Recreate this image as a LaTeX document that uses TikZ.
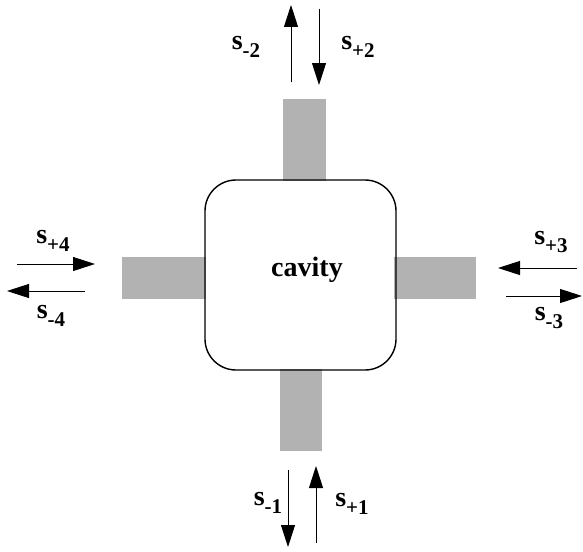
\documentclass[tikz,border=0pt]{standalone}
\usepackage{fontspec}
\setmainfont{Liberation Serif}
\usetikzlibrary{arrows.meta}
\tikzset{
  guide/.style={fill=black!30,draw=none,inner sep=0pt},
  wave/.style={line width=0.9pt,-{Triangle[length=22pt,width=14pt]}},
  portlabel/.style={font=\bfseries\fontsize{28}{28}\selectfont,inner sep=0pt}
}
\newcommand{\port}[1]{s\raisebox{-0.3em}{\fontsize{21}{21}\selectfont #1}}
\begin{document}
\begin{tikzpicture}[x=1pt,y=-1pt]
      \useasboundingbox (0,0) rectangle (583,551);
      \begin{scope}
        % waveguides
        \node[guide,minimum width=43,minimum height=82] (gtop) at (304.5,140) {};
        \node[guide,minimum width=42,minimum height=82] (gbot) at (301,410) {};
        \node[guide,minimum width=84,minimum height=42] (gleft) at (164,278) {};
        \node[guide,minimum width=82,minimum height=42] (gright) at (435,278) {};
        \node[draw,line width=1.4pt,rounded corners=31pt,minimum width=191,minimum height=190,fill=none] (cavity) at (300.5,275) {};
        \node[font=\bfseries\fontsize{28}{28}\selectfont] at (307,270) {cavity};
        % ports
        \coordinate (t1) at (291,82);  \coordinate (t2) at (291,5);
        \coordinate (t3) at (319,9);   \coordinate (t4) at (319,85);
        \coordinate (l1) at (17,264);  \coordinate (l2) at (95,264);
        \coordinate (l3) at (85,291);  \coordinate (l4) at (7,291);
        \coordinate (r1) at (577,268); \coordinate (r2) at (498,268);
        \coordinate (r3) at (506,296); \coordinate (r4) at (582,296);
        \coordinate (b1) at (288,470); \coordinate (b2) at (288,547);
        \coordinate (b3) at (316,543); \coordinate (b4) at (316,466);
        \draw[wave] (t1) -- (t2);
        \draw[wave] (t3) -- (t4);
        \draw[wave] (l1) -- (l2);
        \draw[wave] (l3) -- (l4);
        \draw[wave] (r1) -- (r2);
        \draw[wave] (r3) -- (r4);
        \draw[wave] (b1) -- (b2);
        \draw[wave] (b3) -- (b4);
        \node[portlabel] (sm2) at (246,47) {\port{-2}};
        \node[portlabel] (sp2) at (358,47) {\port{+2}};
        \node[portlabel] (sp4) at (53,241) {\port{+4}};
        \node[portlabel] (sm4) at (51,316) {\port{-4}};
        \node[portlabel] (sp3) at (551,242) {\port{+3}};
        \node[portlabel] (sm3) at (549,318) {\port{-3}};
        \node[portlabel] (sm1) at (268,503) {\port{-1}};
        \node[portlabel] (sp1) at (352,504) {\port{+1}};
      \end{scope}
  \end{tikzpicture}
\end{document}
